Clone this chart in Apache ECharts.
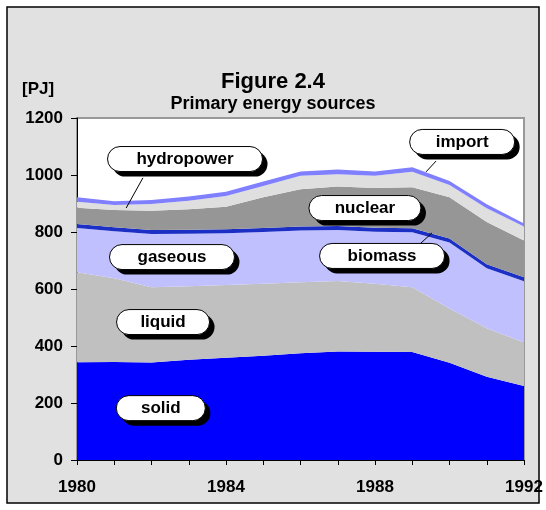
<!DOCTYPE html>
<html>
<head>
<meta charset="UTF-8">
<title>Figure 2.4</title>
<script src="https://cdn.jsdelivr.net/npm/echarts@6/dist/echarts.min.js"></script>
<style>
  html, body { margin: 0; padding: 0; background: #fff; }
  #main { width: 546px; height: 510px; }
</style>
</head>
<body>
<div id="main"></div>
<script>
// primary energy sources, PJ
var years = ['1980', '1981', '1982', '1983', '1984', '1985', '1986', '1987', '1988', '1989', '1990', '1991', '1992'];
var solid      = [343, 344, 342, 352, 359, 366, 375, 381, 380, 379, 341, 292, 260];
var liquid     = [316, 294, 264, 258, 255, 252, 249, 247, 238, 227, 191, 170, 152];
var gaseous    = [155, 165, 187, 184, 182, 182, 181, 179, 183, 193, 231, 211, 215];
var biomass    = [14, 14, 14, 14, 14, 14, 14, 14, 14, 14, 14, 14, 14];
var nuclear    = [57, 60, 68, 72, 79, 108, 131, 139, 139, 144, 145, 148, 129];
var hydropower = [21, 18, 23, 30, 37, 39, 47, 43, 43, 54, 43, 48, 49];
var importE    = [16, 13, 14, 15, 15, 16, 15, 16, 15, 16, 14, 14, 11];

// label bubbles, placed in data units (year, PJ)
var notes = [
  { text: 'hydropower', year: 1982.9, pj: 1056, w: 155 },
  { text: 'import', year: 1990.34, pj: 1116, w: 105 },
  { text: 'nuclear', year: 1987.73, pj: 884, w: 112 },
  { text: 'biomass', year: 1988.19, pj: 716, w: 125 },
  { text: 'gaseous', year: 1982.55, pj: 712, w: 125 },
  { text: 'liquid', year: 1982.31, pj: 484, w: 93 },
  { text: 'solid', year: 1982.25, pj: 182, w: 89 }
];
var leaders = [
  [[1981.77, 990], [1981.32, 884]],
  [[1989.64, 1049], [1989.37, 1011]],
  [[1989.53, 797], [1989.15, 751]]
];

var font = "'Liberation Sans', Arial, sans-serif";
var chart = echarts.init(document.getElementById('main'));

function area(name, data, color) {
  return {
    name: name,
    type: 'line',
    stack: 'total',
    data: data,
    symbol: 'none',
    lineStyle: { width: 0 },
    itemStyle: { color: color },
    areaStyle: { color: color, opacity: 1 },
    emphasis: { disabled: true }
  };
}

var option = {
  animation: false,
  backgroundColor: '#fff',
  title: [{
    text: 'Figure 2.4',
    subtext: 'Primary energy sources',
    left: 268,
    top: 66,
    textAlign: 'center',
    itemGap: 2,
    textStyle: { fontFamily: font, fontSize: 22, fontWeight: 'bold', color: '#000' },
    subtextStyle: { fontFamily: font, fontSize: 18, fontWeight: 'bold', color: '#000' }
  }, {
    text: '[PJ]',
    left: 17,
    top: 76,
    textStyle: { fontFamily: font, fontSize: 17, fontWeight: 'bold', color: '#000' }
  }],
  grid: {
    left: 77, right: 22, top: 118, bottom: 50,
    show: true,
    backgroundColor: '#fff',
    borderColor: '#999',
    borderWidth: 2
  },
  xAxis: {
    type: 'category',
    data: years,
    boundaryGap: false,
    axisLine: { lineStyle: { color: '#000', width: 1 } },
    axisTick: { interval: 0, length: 5, lineStyle: { color: '#000' } },
    axisLabel: { interval: 3, margin: 19, fontFamily: font, fontSize: 17, fontWeight: 'bold', color: '#000' },
    splitLine: { show: false }
  },
  yAxis: {
    type: 'value',
    min: 0, max: 1200, interval: 200,
    axisLine: { show: true, lineStyle: { color: '#000', width: 1 } },
    axisTick: { show: true, length: 6, lineStyle: { color: '#000' } },
    axisLabel: { margin: 14, fontFamily: font, fontSize: 17, fontWeight: 'bold', color: '#000',
      formatter: function (v) { return String(v); } },
    splitLine: { show: false }
  },
  series: [
    area('solid', solid, '#0000ff'),
    area('liquid', liquid, '#c0c0c0'),
    area('gaseous', gaseous, '#c0c0ff'),
    area('biomass', biomass, '#1c2fc4'),
    area('nuclear', nuclear, '#969696'),
    area('hydropower', hydropower, '#dfdfdf'),
    area('import', importE, '#8080ff')
  ]
};
chart.setOption(option);

// map data units to pixels through the grid
var p0 = chart.convertToPixel({ gridIndex: 0 }, [0, 0]);
var p1 = chart.convertToPixel({ gridIndex: 0 }, [12, 1200]);
function px(year, pj) {
  return [p0[0] + (year - 1980) / 12 * (p1[0] - p0[0]), p0[1] + pj / 1200 * (p1[1] - p0[1])];
}

var graphics = [{
  type: 'rect',
  z: -10,
  silent: true,
  shape: { x: 7, y: 7, width: 532, height: 496 },
  style: { fill: '#e1e1e1', stroke: '#000', lineWidth: 1.5 }
}];

leaders.forEach(function (l) {
  var a = px(l[0][0], l[0][1]), b = px(l[1][0], l[1][1]);
  graphics.push({
    type: 'line', z: 50, silent: true,
    shape: { x1: a[0], y1: a[1], x2: b[0], y2: b[1] },
    style: { stroke: '#000', lineWidth: 1 }
  });
});

notes.forEach(function (n) {
  var c = px(n.year, n.pj);
  var h = 25;
  var x = c[0] - n.w / 2, y = c[1] - h / 2;
  graphics.push(
    { type: 'rect', z: 60, silent: true, shape: { x: x + 5, y: y + 5, width: n.w, height: h, r: h / 2 }, style: { fill: '#000' } },
    { type: 'rect', z: 61, silent: true, shape: { x: x, y: y, width: n.w, height: h, r: h / 2 }, style: { fill: '#fff', stroke: '#000', lineWidth: 1 } },
    { type: 'text', z: 62, silent: true, style: { x: c[0], y: c[1], text: n.text, align: 'center', verticalAlign: 'middle',
        font: 'bold 17px ' + font, fill: '#000' } }
  );
});

chart.setOption({ graphic: graphics });
</script>
</body>
</html>
